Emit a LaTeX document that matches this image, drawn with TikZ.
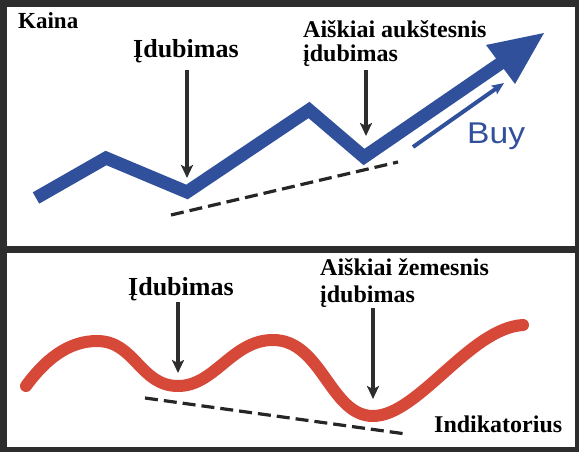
\documentclass[tikz,border=0pt]{standalone}
\usepackage{fontspec}
\setmainfont{Liberation Serif}
\newfontfamily\buyfont{Liberation Sans}
\usetikzlibrary{arrows.meta}
\definecolor{framebg}{RGB}{45,45,45}
\definecolor{priceblue}{RGB}{48,80,156}
\definecolor{indred}{RGB}{214,72,56}
\definecolor{pointer}{RGB}{45,45,45}
\tikzset{
  panel/.style={fill=white, draw=none},
  lbl/.style={anchor=base west, inner sep=0pt, font=\bfseries\fontsize{24}{24}\selectfont},
  biglbl/.style={anchor=base west, inner sep=0pt, font=\bfseries\fontsize{26}{26}\selectfont},
  pointarrow/.style={draw=pointer, line width=3.6pt, -{Stealth[length=13pt,width=12pt,inset=3pt]}},
  trendline/.style={draw=black!85, line width=3.2pt, dash pattern=on 13pt off 6pt},
  pricepath/.style={draw=priceblue, line width=13pt, line join=miter, miter limit=10},
  indpath/.style={draw=indred, line width=12pt, line cap=round}
}
\begin{document}
\begin{tikzpicture}[x=1pt,y=-1pt]
\useasboundingbox (0,0) rectangle (579,452);
\fill[framebg] (0,0) rectangle (579,452);
\fill[panel] (7,7) rectangle (575,246);
\fill[panel] (7,253) rectangle (575,447);

% ---- top panel ----
\coordinate (p0) at (36,198);
\coordinate (p1) at (106,158);
\coordinate (p2) at (187,192);
\coordinate (p3) at (309,110);
\coordinate (p4) at (364,157);
\coordinate (p5) at (501,63);
\coordinate (tip) at (544,33);
\coordinate (hl) at (486,45);
\coordinate (hr) at (515,84);
\draw[pricepath] (p0) -- (p1) -- (p2) -- (p3) -- (p4) -- (p5);
\fill[priceblue] (tip) -- (hl) -- (hr) -- cycle;

\coordinate (t1) at (171,215);
\coordinate (t2) at (398,162);
\draw[trendline] (t1) -- (t2);

\coordinate (b1) at (413,147);
\coordinate (b2) at (504,83);
\draw[draw=priceblue, line width=4pt, -{Stealth[length=12pt,width=10pt,inset=2pt]}] (b1) -- (b2);
\node[anchor=base west, inner sep=0pt, text=priceblue, font=\buyfont\fontsize{30}{30}\selectfont, xscale=1.12] (buy) at (467,143) {Buy};

\node[lbl, font=\bfseries\fontsize{23}{23}\selectfont] (kaina) at (18,29) {Kaina};
\node[biglbl] (dub1) at (133,58) {Įdubimas};
\node[lbl] (hi1) at (303,38) {Aiškiai aukštesnis};
\node[lbl] (hi2) at (303,62) {įdubimas};

\coordinate (a1s) at (187,70);
\coordinate (a1e) at (187,178);
\coordinate (a2s) at (366,70);
\coordinate (a2e) at (366,136);
\draw[pointarrow] (a1s) -- (a1e);
\draw[pointarrow] (a2s) -- (a2e);

% ---- bottom panel ----
\coordinate (r0) at (26,386);
\coordinate (r1) at (97,341);
\coordinate (r2) at (178,386);
\coordinate (r3) at (273,340);
\coordinate (r4) at (373,416);
\coordinate (r5) at (523,325);
\draw[indpath] (r0) .. controls (45,360) and (68,341) .. (r1)
  .. controls (135,341) and (140,386) .. (r2)
  .. controls (215,386) and (232,340) .. (r3)
  .. controls (322,340) and (330,416) .. (r4)
  .. controls (418,416) and (470,328) .. (r5);

\coordinate (d1) at (145,398);
\coordinate (d2) at (406,434);
\draw[trendline] (d1) -- (d2);

\node[biglbl] (dub2) at (128,295) {Įdubimas};
\node[lbl] (lo1) at (320,275) {Aiškiai žemesnis};
\node[lbl] (lo2) at (320,302) {įdubimas};
\node[lbl] (ind) at (434,432) {Indikatorius};

\coordinate (a3s) at (178,302);
\coordinate (a3e) at (178,373);
\coordinate (a4s) at (373,308);
\coordinate (a4e) at (373,399);
\draw[pointarrow] (a3s) -- (a3e);
\draw[pointarrow] (a4s) -- (a4e);
\end{tikzpicture}
\end{document}
